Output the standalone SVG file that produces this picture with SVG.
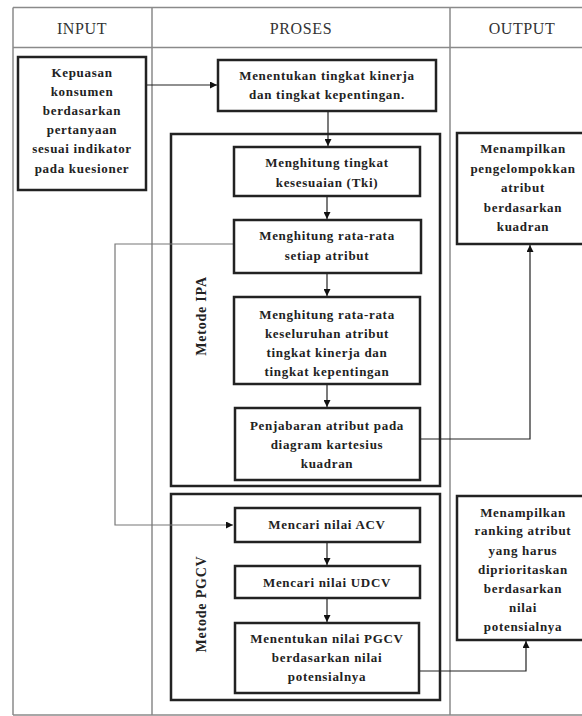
<svg xmlns="http://www.w3.org/2000/svg" width="582" height="716" viewBox="0 0 582 716">
<defs>
<style>
.tbl{fill:none;stroke:#8a8a8a;stroke-width:1.5}
.box{fill:#fff;stroke:#222;stroke-width:2.5}
.grp{fill:none;stroke:#222;stroke-width:2.5}
.hd{font-family:"Liberation Serif","Times New Roman",serif;font-size:16px;fill:#333;text-anchor:middle;letter-spacing:0.6px}
.t{font-family:"Liberation Serif","Times New Roman",serif;font-size:13px;font-weight:bold;fill:#222;text-anchor:middle;letter-spacing:0.7px}
.v{font-family:"Liberation Serif","Times New Roman",serif;font-size:14px;font-weight:bold;fill:#222;text-anchor:middle;letter-spacing:0.8px;dominant-baseline:central}
.c{fill:none;stroke:#222;stroke-width:1.2}
.cg{fill:none;stroke:#777;stroke-width:1.2}
</style>
<marker id="ah" viewBox="0 0 10 10" refX="10" refY="5" markerWidth="7" markerHeight="7" markerUnits="userSpaceOnUse" orient="auto">
<path d="M0,0 L10,5 L0,10 z" fill="#111"/>
</marker>
</defs>
<rect width="582" height="716" fill="#fff"/>
<g id="table">
<path class="tbl" d="M13,7.5 H590 M13,47.5 H590 M13,7.5 V715 M13,715 H590 M152,7.5 V715 M450,7.5 V715"/>
<text class="hd" x="82" y="34">INPUT</text>
<text class="hd" x="301" y="34">PROSES</text>
<text class="hd" x="522" y="34">OUTPUT</text>
</g>
<g id="grp-ipa">
<rect class="grp" x="171" y="134" width="269" height="352"/>
<text class="v" transform="translate(201,316) rotate(-90)">Metode IPA</text>
</g>
<g id="grp-pgcv">
<rect class="grp" x="171" y="494" width="269" height="206"/>
<text class="v" transform="translate(201,604) rotate(-90)">Metode PGCV</text>
</g>
<g id="connectors">
<path class="c" d="M146,85 H217" marker-end="url(#ah)"/>
<path class="c" d="M328,111 V146" marker-end="url(#ah)"/>
<path class="c" d="M327,196 V219" marker-end="url(#ah)"/>
<path class="c" d="M327,273 V296" marker-end="url(#ah)"/>
<path class="c" d="M327,384 V407" marker-end="url(#ah)"/>
<path class="cg" d="M234,244 H115 V525 H233" marker-end="url(#ah)"/>
<path class="c" d="M327,542 V565" marker-end="url(#ah)"/>
<path class="c" d="M327,598 V622" marker-end="url(#ah)"/>
<path class="c" d="M420,439 H530 V245" marker-end="url(#ah)"/>
<path class="c" d="M419,671 H526 V641" marker-end="url(#ah)"/>
</g>
<g id="n-input">
<rect class="box" x="18" y="57" width="128" height="133"/>
<text class="t" x="82" y="77">Kepuasan</text>
<text class="t" x="82" y="96">konsumen</text>
<text class="t" x="82" y="115">berdasarkan</text>
<text class="t" x="82" y="134">pertanyaan</text>
<text class="t" x="82" y="153">sesuai indikator</text>
<text class="t" x="82" y="173">pada kuesioner</text>
</g>
<g id="n-menentukan">
<rect class="box" x="218" y="60" width="218" height="51"/>
<text class="t" x="327" y="80">Menentukan tingkat kinerja</text>
<text class="t" x="327" y="99">dan tingkat kepentingan.</text>
</g>
<g id="n-tki">
<rect class="box" x="234" y="147" width="186" height="49"/>
<text class="t" x="327" y="167">Menghitung tingkat</text>
<text class="t" x="327" y="187">kesesuaian (Tki)</text>
</g>
<g id="n-rata">
<rect class="box" x="234" y="220" width="187" height="53"/>
<text class="t" x="327" y="239.5">Menghitung rata-rata</text>
<text class="t" x="327" y="259.5">setiap atribut</text>
</g>
<g id="n-keseluruhan">
<rect class="box" x="234" y="297" width="186" height="87"/>
<text class="t" x="327" y="318.5">Menghitung rata-rata</text>
<text class="t" x="327" y="337.5">keseluruhan atribut</text>
<text class="t" x="327" y="357">tingkat kinerja dan</text>
<text class="t" x="327" y="376">tingkat kepentingan</text>
</g>
<g id="n-penjabaran">
<rect class="box" x="235" y="408" width="185" height="72"/>
<text class="t" x="327" y="429.5">Penjabaran atribut pada</text>
<text class="t" x="327" y="448.5">diagram kartesius</text>
<text class="t" x="327" y="467.5">kuadran</text>
</g>
<g id="n-acv">
<rect class="box" x="235" y="508" width="185" height="34"/>
<text class="t" x="327" y="529">Mencari nilai ACV</text>
</g>
<g id="n-udcv">
<rect class="box" x="235" y="566" width="185" height="32"/>
<text class="t" x="327" y="586.5">Mencari nilai UDCV</text>
</g>
<g id="n-pgcv">
<rect class="box" x="235" y="623" width="184" height="70"/>
<text class="t" x="327" y="642.5">Menentukan nilai PGCV</text>
<text class="t" x="327" y="661.5">berdasarkan nilai</text>
<text class="t" x="327" y="681">potensialnya</text>
</g>
<g id="n-out1">
<rect class="box" x="457" y="133" width="132" height="111"/>
<text class="t" x="523" y="152.5">Menampilkan</text>
<text class="t" x="523" y="172.5">pengelompokkan</text>
<text class="t" x="523" y="191.5">atribut</text>
<text class="t" x="523" y="211.5">berdasarkan</text>
<text class="t" x="523" y="230.5">kuadran</text>
</g>
<g id="n-out2">
<rect class="box" x="457" y="496" width="132" height="144"/>
<text class="t" x="523" y="516.5">Menampilkan</text>
<text class="t" x="523" y="535">ranking atribut</text>
<text class="t" x="523" y="554.5">yang harus</text>
<text class="t" x="523" y="573.5">diprioritaskan</text>
<text class="t" x="523" y="592.5">berdasarkan</text>
<text class="t" x="523" y="611.5">nilai</text>
<text class="t" x="523" y="631">potensialnya</text>
</g>
</svg>
